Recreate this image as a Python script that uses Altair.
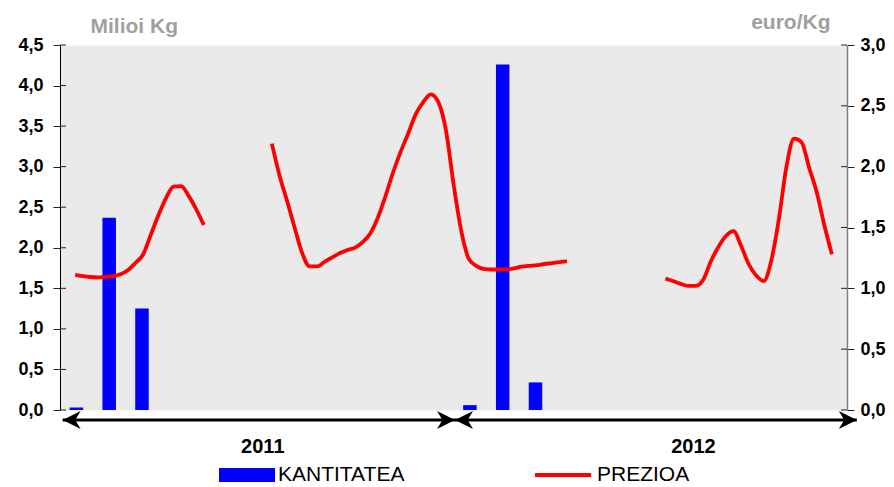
import altair as alt
import pandas as pd

# ---------------- data ----------------
# monthly quantities (million kg); month index counted from Jan 2011
bar_month = [1, 2, 3, 13, 14, 15]
bar_qty = [0.03, 2.37, 1.25, 0.06, 4.26, 0.34]

# weekly prices (euro/kg); week index counted from start of 2011 (0..104)
price_seg1_start = 2
price_seg1 = [1.11, 1.10, 1.093, 1.09, 1.095, 1.10, 1.115, 1.15, 1.21, 1.28,
              1.44, 1.60, 1.74, 1.836, 1.84, 1.76, 1.65, 1.52]
price_seg2_start = 28
price_seg2 = [2.19, 1.93, 1.72, 1.50, 1.29, 1.18, 1.18, 1.22, 1.255, 1.29,
              1.315, 1.335, 1.38, 1.45, 1.58, 1.755, 1.95, 2.12, 2.27, 2.43,
              2.53, 2.595, 2.53, 2.30, 1.86, 1.48, 1.245, 1.185, 1.16, 1.155,
              1.155, 1.155, 1.165, 1.178, 1.185, 1.19, 1.20, 1.207, 1.215, 1.222]
price_seg3_start = 80
price_seg3 = [1.08, 1.06, 1.037, 1.02, 1.02, 1.07, 1.22, 1.34, 1.43, 1.47,
              1.35, 1.20, 1.105, 1.06, 1.23, 1.57, 2.00, 2.23, 2.20, 1.99,
              1.79, 1.52, 1.28]

years = ["2011", "2012"]
arrow_start = [0.35, 52.2]
arrow_end = [52.2, 105.3]
year_label_week = [26.8, 83.7]

left_ticks = [0.0, 0.5, 1.0, 1.5, 2.0, 2.5, 3.0, 3.5, 4.0, 4.5]
right_ticks = [0.0, 0.5, 1.0, 1.5, 2.0, 2.5, 3.0]

# ---------------- tables ----------------
bars_df = pd.DataFrame({
    "x": [(m - 0.5) * 52 / 12 for m in bar_month],
    "qty": bar_qty,
    "series": ["KANTITATEA"] * len(bar_qty),
})

rows = []
for seg, (start, vals) in enumerate([(price_seg1_start, price_seg1),
                                     (price_seg2_start, price_seg2),
                                     (price_seg3_start, price_seg3)]):
    for i, v in enumerate(vals):
        rows.append({"week": start + i, "price": v, "seg": seg, "series": "PREZIOA"})
price_df = pd.DataFrame(rows)

arrows_df = pd.DataFrame({"year": years, "start": arrow_start, "end": arrow_end,
                          "lx": year_label_week})

W, H = 787, 365
FONT = "Liberation Sans"
label_expr = "replace(format(datum.value, '.1f'), '.', ',')"

xscale = alt.Scale(domain=[0, 104], nice=False, zero=False, padding=0)
lscale = alt.Scale(domain=[0, 4.5], nice=False, padding=0)
rscale = alt.Scale(domain=[0, 3.0], nice=False, padding=0)

left_axis = alt.Axis(orient="left", values=left_ticks, labelExpr=label_expr,
                     grid=False, domainColor="black", domainWidth=1,
                     tickColor="#222222", tickSize=7, tickWidth=1,
                     labelFont=FONT, labelFontSize=18, labelFontWeight="bold",
                     labelColor="black", labelPadding=10,
                     title="Milioi Kg", titleAngle=0, titleAlign="left",
                     titleBaseline="alphabetic", titleX=30, titleY=-13,
                     titleFont=FONT, titleFontSize=21, titleFontWeight="bold",
                     titleColor="#A0A0A0")
right_axis = alt.Axis(orient="right", values=right_ticks, labelExpr=label_expr,
                      grid=False, domainColor="#808080", domainWidth=1.5,
                      tickColor="#222222", tickSize=7, tickWidth=1,
                      labelFont=FONT, labelFontSize=18, labelFontWeight="bold",
                      labelColor="black", labelPadding=6,
                      title="euro/Kg", titleAngle=0, titleAlign="right",
                      titleBaseline="alphabetic", titleX=-17, titleY=-17,
                      titleFont=FONT, titleFontSize=21, titleFontWeight="bold",
                      titleColor="#A0A0A0")

bars = alt.Chart(bars_df).mark_bar(size=13.5).encode(
    x=alt.X("x:Q", scale=xscale, axis=None),
    y=alt.Y("qty:Q", scale=lscale, axis=left_axis),
    color=alt.Color("series:N",
                    scale=alt.Scale(domain=["KANTITATEA"], range=["#0000FF"]),
                    legend=alt.Legend(title=None, orient="none", legendX=159, legendY=402,
                                      padding=0, symbolType="M-1,-0.25H1V0.25H-1Z",
                                      symbolSize=3136, symbolStrokeWidth=0,
                                      symbolOpacity=1,
                                      labelFont=FONT, labelFontSize=21,
                                      labelColor="black", labelOffset=3)),
)
left_inner = alt.Chart(pd.DataFrame({"v": left_ticks})).mark_rule(
    color="#222222", strokeWidth=1).encode(
    y=alt.Y("v:Q", scale=lscale, axis=left_axis),
    x=alt.value(0), x2=alt.value(6))
left_group = alt.layer(bars, left_inner)

line = alt.Chart(price_df).mark_line(strokeWidth=3.8, interpolate="monotone").encode(
    x=alt.X("week:Q", scale=xscale, axis=None),
    y=alt.Y("price:Q", scale=rscale, axis=right_axis),
    detail="seg:N",
    color=alt.Color("series:N",
                    scale=alt.Scale(domain=["PREZIOA"], range=["#FF0000"]),
                    legend=alt.Legend(title=None, orient="none", legendX=473, legendY=400,
                                      padding=0, symbolType="stroke",
                                      symbolSize=3136, symbolStrokeWidth=4,
                                      labelFont=FONT, labelFontSize=21,
                                      labelColor="black", labelOffset=4)),
)
right_inner = alt.Chart(pd.DataFrame({"v": right_ticks})).mark_rule(
    color="#222222", strokeWidth=1).encode(
    y=alt.Y("v:Q", scale=rscale, axis=right_axis),
    x=alt.value(W - 6), x2=alt.value(W))
right_group = alt.layer(line, right_inner)

ARROW_Y = 375
arrow_lines = alt.Chart(arrows_df).mark_rule(color="black", strokeWidth=3).encode(
    x=alt.X("start:Q", scale=xscale, axis=None), x2="end:Q", y=alt.value(ARROW_Y))
heads_left = alt.Chart(arrows_df).mark_point(
    shape="M-1,0L1,-1L0.4,0L1,1Z", size=324, filled=True, color="black",
    opacity=1, strokeWidth=0, xOffset=9).encode(
    x=alt.X("start:Q", scale=xscale, axis=None), y=alt.value(ARROW_Y))
heads_right = alt.Chart(arrows_df).mark_point(
    shape="M1,0L-1,-1L-0.4,0L-1,1Z", size=324, filled=True, color="black",
    opacity=1, strokeWidth=0, xOffset=-9).encode(
    x=alt.X("end:Q", scale=xscale, axis=None), y=alt.value(ARROW_Y))
year_text = alt.Chart(arrows_df).mark_text(
    font=FONT, fontSize=20, fontWeight="bold", color="black", baseline="middle").encode(
    x=alt.X("lx:Q", scale=xscale, axis=None), y=alt.value(402), text="year:N")

chart = alt.layer(left_group, right_group, arrow_lines, heads_left, heads_right, year_text
).resolve_scale(y="independent", color="independent").properties(
    width=W, height=H,
    padding={"left": 52, "top": 37, "right": 39, "bottom": 77},
    autosize=alt.AutoSizeParams(type="none"),
    background="white",
).configure_view(fill="#EAEAEA", stroke="transparent")

chart.save("out.html", embed_options={"renderer": "svg", "actions": False})
